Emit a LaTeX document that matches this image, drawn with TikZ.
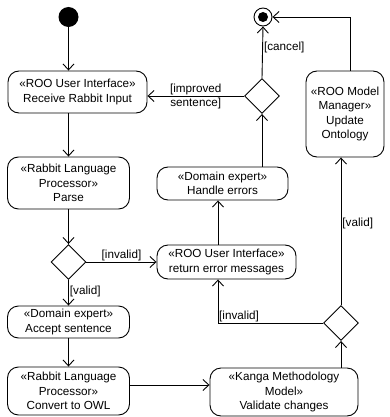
\documentclass[tikz,border=0pt]{standalone}
\usepackage{fontspec}
\setmainfont{Liberation Sans}
\usetikzlibrary{arrows.meta,shapes.geometric,calc}
\begin{document}
\begin{tikzpicture}[x=1pt,y=-1pt,
  act/.style={draw,line width=0.9pt,rounded corners=11pt,align=center,inner sep=0pt,
    font=\fontsize{11.7}{14.5}\selectfont},
  dec/.style={draw,line width=0.9pt,diamond,aspect=1,inner sep=0pt,minimum width=35pt,minimum height=35pt},
  lbl/.style={font=\fontsize{11.7}{14}\selectfont,inner sep=1pt},
  flow/.style={line width=0.9pt,-{Straight Barb[length=6pt,width=11pt,line width=0.9pt]}}
]
\useasboundingbox (0,0) rectangle (390,417);
% nodes
\node[circle,fill=black,minimum size=20pt,inner sep=0pt] (init) at (68.5,17) {};
\node[circle,draw,line width=0.9pt,minimum size=18pt,inner sep=0pt] (final) at (263,17) {};
\fill (final) circle (5pt);
\node[act,minimum width=139pt,minimum height=42pt] (receive) at (77.5,92) {«ROO User Interface»\\Receive Rabbit Input};
\node[act,minimum width=122pt,minimum height=52pt] (parse) at (68.5,183) {«Rabbit Language\\Processor»\\Parse};
\node[dec] (d1) at (68.5,262) {};
\node[act,minimum width=122pt,minimum height=32pt] (accept) at (68.5,322) {«Domain expert»\\Accept sentence};
\node[act,minimum width=122pt,minimum height=48pt] (convert) at (68.5,391) {«Rabbit Language\\Processor»\\Convert to OWL};
\node[act,minimum width=148pt,minimum height=48pt] (kanga) at (284,392) {«Kanga Methodology\\Model»\\Validate changes};
\node[act,minimum width=139pt,minimum height=34pt] (ret) at (226.5,262) {«ROO User Interface»\\return error messages};
\node[act,minimum width=131pt,minimum height=33pt] (handle) at (222.5,183.5) {«Domain expert»\\Handle errors};
\node[act,minimum width=78pt,minimum height=86pt] (update) at (345,114) {«ROO Model\\Manager»\\Update\\Ontology};
\node[dec] (d2) at (341,323) {};
\node[dec] (d3) at (262,96) {};
\coordinate (xa) at (218,0);
\coordinate (xu) at (350,0);
\coordinate (yk) at (0,385);
% connectors
\draw[flow] (init) -- (init |- receive.north);
\draw[flow] (init |- receive.south) -- (parse.north);
\draw[flow] (parse.south) -- (d1.north);
\draw[flow] (d1.east) -- node[lbl,above] {[invalid]} (ret.west);
\draw[flow] (d1.south) -- node[lbl,right,pos=0.45] {[valid]} (accept.north);
\draw[flow] (accept.south) -- (convert.north);
\draw[flow] (convert.east |- yk) -- (kanga.west |- yk);
\draw[flow] (d2.south |- kanga.north) -- (d2.south);
\draw[flow] (d2.west) -| (xa |- ret.south);
\node[lbl,anchor=south west] (inv2) at (xa |- d2.west) {[invalid]};
\draw[flow] (xa |- ret.north) -- (xa |- handle.south);
\draw[flow] (d2.north) -- node[lbl,right,pos=0.55] {[valid]} (d2.north |- update.south);
\draw[flow] (d3.south |- handle.north) -- (d3.south);
\draw[flow] (d3.north) -- node[lbl,right,pos=0.6] {[cancel]} (final.south);
\draw[flow] (d3.west) -- node[lbl,align=center,font=\fontsize{11.7}{14}\selectfont] {[improved\\sentence]} (receive.east |- d3.west);
\draw[flow] (xu |- update.north) |- (final.east);
\end{tikzpicture}
\end{document}
